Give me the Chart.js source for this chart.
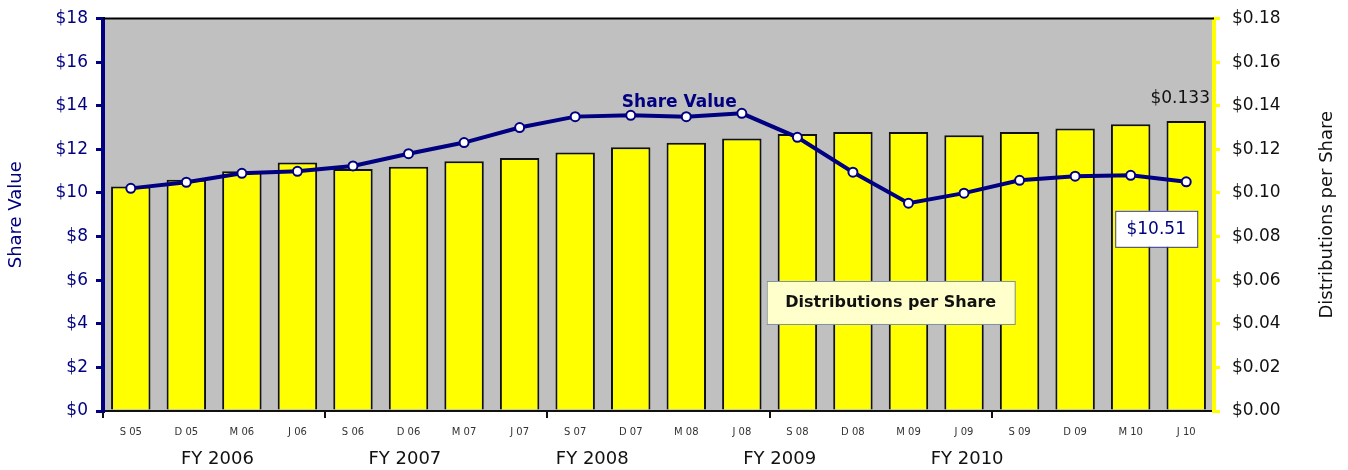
<!DOCTYPE html>
<html>
<head>
<meta charset="utf-8">
<script src="https://cdn.jsdelivr.net/npm/chart.js@4.4.1/dist/chart.umd.min.js"></script>
<style>
  html, body { margin: 0; padding: 0; background: #ffffff; }
  #wrap { width: 1348px; height: 470px; }
</style>
</head>
<body>
<div id="wrap"><canvas id="c" width="1348" height="470"></canvas></div>
<script>
// ---- Data ----
const categories = ['S 05','D 05','M 06','J 06','S 06','D 06','M 07','J 07','S 07','D 07','M 08','J 08','S 08','D 08','M 09','J 09','S 09','D 09','M 10','J 10'];
const distributionsPerShare = [0.103,0.106,0.110,0.114,0.111,0.112,0.1145,0.116,0.1185,0.121,0.123,0.125,0.127,0.128,0.128,0.1265,0.128,0.1295,0.1315,0.133];
const shareValue = [10.21,10.49,10.90,10.99,11.24,11.80,12.31,13.00,13.50,13.56,13.50,13.65,12.55,10.95,9.53,9.99,10.58,10.77,10.81,10.51];
const fiscalYears = ['FY 2006','FY 2007','FY 2008','FY 2009','FY 2010'];
const leftTicks = [0,2,4,6,8,10,12,14,16,18];
const rightTicks = [0,0.02,0.04,0.06,0.08,0.10,0.12,0.14,0.16,0.18];

const NAVY = '#000080';
const FONT = '"DejaVu Sans", sans-serif';

const overlay = {
  id: 'overlay',
  beforeDraw(chart) {
    const {ctx, chartArea: a} = chart;
    ctx.save();
    ctx.fillStyle = '#C0C0C0';
    ctx.fillRect(a.left, a.top, a.right - a.left, a.bottom - a.top);
    ctx.restore();
  },
  afterDraw(chart) {
    const {ctx, chartArea: a} = chart;
    const xs = chart.scales.x, yL = chart.scales.y, yR = chart.scales.y1;
    ctx.save();
    // top border
    ctx.strokeStyle = '#000';
    ctx.lineWidth = 2;
    ctx.beginPath();
    ctx.moveTo(a.left, a.top); ctx.lineTo(a.right, a.top);
    ctx.stroke();

    // FY labels
    ctx.fillStyle = '#111';
    ctx.font = '18px ' + FONT;
    ctx.textAlign = 'center';
    ctx.textBaseline = 'middle';
    const w = a.right - a.left;
    fiscalYears.forEach((t, i) => {
      ctx.fillText(t, a.left + w * (0.103 + i * 0.1687), 459);
    });

    // right axis title
    ctx.save();
    ctx.translate(1327, (a.top + a.bottom) / 2);
    ctx.rotate(-Math.PI / 2);
    ctx.fillStyle = '#111';
    ctx.font = '18px ' + FONT;
    ctx.textAlign = 'center';
    ctx.textBaseline = 'middle';
    ctx.fillText('Distributions per Share', 0, 0);
    ctx.restore();

    const n = categories.length;
    // "Share Value" annotation near M 08 point
    const i8 = 10;
    ctx.fillStyle = NAVY;
    ctx.font = 'bold 17px ' + FONT;
    ctx.textAlign = 'center';
    ctx.textBaseline = 'middle';
    ctx.fillText('Share Value', xs.getPixelForValue(i8) - 7, yL.getPixelForValue(shareValue[i8]) - 14);

    // last bar value label
    const last = n - 1;
    ctx.fillStyle = '#111';
    ctx.font = '17px ' + FONT;
    ctx.fillText('$' + distributionsPerShare[last].toFixed(3), xs.getPixelForValue(last) - 6, yR.getPixelForValue(distributionsPerShare[last]) - 22);

    // last share value box
    const px = xs.getPixelForValue(last) - 30, py = yL.getPixelForValue(shareValue[last]) + 47;
    ctx.fillStyle = '#ffffff';
    ctx.fillRect(px - 41, py - 18, 82, 36);
    ctx.strokeStyle = '#3a3aa0';
    ctx.lineWidth = 1;
    ctx.strokeRect(px - 41 + 0.5, py - 18 + 0.5, 82, 36);
    ctx.fillStyle = NAVY;
    ctx.font = '17px ' + FONT;
    ctx.fillText('$' + shareValue[last].toFixed(2), px, py + 1);

    // Distributions per Share box
    const bx = (xs.getPixelForValue(13) + xs.getPixelForValue(14)) / 2 + 10;
    const by = yR.getPixelForValue(0.05);
    ctx.fillStyle = '#FFFFCC';
    ctx.fillRect(bx - 124, by - 21, 248, 43);
    ctx.strokeStyle = '#7f8fa6';
    ctx.strokeRect(bx - 124 + 0.5, by - 21 + 0.5, 248, 43);
    ctx.fillStyle = '#111';
    ctx.font = 'bold 16px ' + FONT;
    ctx.fillText('Distributions per Share', bx, by + 1);
    ctx.restore();
  }
};

new Chart(document.getElementById('c'), {
  data: {
    labels: categories,
    datasets: [
      {
        type: 'line',
        label: 'Share Value',
        data: shareValue,
        yAxisID: 'y',
        order: 0,
        borderColor: NAVY,
        borderWidth: 4,
        tension: 0,
        pointRadius: 4.5,
        pointBackgroundColor: '#ffffff',
        pointBorderColor: NAVY,
        pointBorderWidth: 2
      },
      {
        type: 'bar',
        label: 'Distributions per Share',
        data: distributionsPerShare,
        yAxisID: 'y1',
        order: 1,
        backgroundColor: '#FFFF00',
        borderColor: '#111',
        borderWidth: 2,
        borderSkipped: 'bottom',
        barPercentage: 0.71,
        categoryPercentage: 1
      }
    ]
  },
  options: {
    responsive: false,
    devicePixelRatio: 1,
    animation: false,
    layout: { padding: { top: 18.5, bottom: 0, left: 0, right: 0 } },
    plugins: { legend: { display: false }, tooltip: { enabled: false } },
    scales: {
      x: {
        offset: true,
        grid: {
          offset: true,
          drawOnChartArea: false,
          drawTicks: true,
          tickLength: 7,
          lineWidth: 2,
          color: (c) => (c.index % 4 === 0 ? '#111' : 'rgba(0,0,0,0)')
        },
        border: { display: true, color: '#111', width: 2 },
        ticks: { color: '#333', font: { family: FONT, size: 10 }, padding: 8, maxRotation: 0, autoSkip: false },
        afterFit(s) { s.height = 59; s.paddingLeft = 0; s.paddingRight = 0; }
      },
      y: {
        position: 'left',
        min: 0, max: 18,
        afterBuildTicks(s) { s.ticks = leftTicks.map(v => ({ value: v })); },
        grid: { drawOnChartArea: false, drawTicks: true, tickLength: 7, lineWidth: 3, color: NAVY },
        border: { display: true, color: NAVY, width: 4 },
        ticks: { color: NAVY, font: { family: FONT, size: 17 }, padding: 8, callback: (v) => '$' + v },
        title: { display: true, text: 'Share Value', color: NAVY, font: { family: FONT, size: 18 }, padding: { top: 6, bottom: 0 } },
        afterFit(s) { s.width = 103; s.paddingTop = 0; s.paddingBottom = 0; }
      },
      y1: {
        position: 'right',
        min: 0, max: 0.18,
        afterBuildTicks(s) { s.ticks = rightTicks.map(v => ({ value: v })); },
        grid: { drawOnChartArea: false, drawTicks: true, tickLength: 6, lineWidth: 3, color: '#FFFF00' },
        border: { display: true, color: '#FFFF00', width: 4 },
        ticks: { color: '#111', font: { family: FONT, size: 17 }, padding: 12, callback: (v) => '$' + v.toFixed(2) },
        afterFit(s) { s.width = 134; s.paddingTop = 0; s.paddingBottom = 0; }
      }
    }
  },
  plugins: [overlay]
});
</script>
</body>
</html>
